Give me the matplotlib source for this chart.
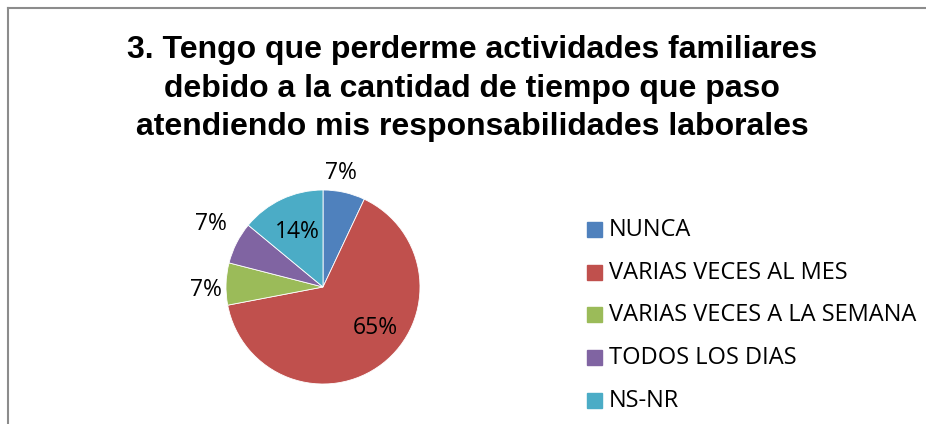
import matplotlib
matplotlib.use("Agg")
import matplotlib.pyplot as plt
from matplotlib.lines import Line2D

# chart data
categories = ["NUNCA", "VARIAS VECES AL MES", "VARIAS VECES A LA SEMANA",
              "TODOS LOS DIAS", "NS-NR"]
percentages = [7, 65, 7, 7, 14]
colors = ["#4F81BD", "#C0504D", "#9BBB59", "#8064A2", "#4BACC6"]
title = ("3. Tengo que perderme actividades familiares\n"
         "debido a la cantidad de tiempo que paso\n"
         "atendiendo mis responsabilidades laborales")

# label positions (pie data units), Excel-style placement
label_pos = [(0.19, 1.18), (0.54, -0.42), (-1.21, -0.03), (-1.16, 0.65), (-0.26, 0.57)]

W, H, DPI = 926, 424, 100
fig = plt.figure(figsize=(W / DPI, H / DPI), dpi=DPI)

# grey chart border on top / left
fig.add_artist(Line2D([8 / W, 1], [1 - 8 / H, 1 - 8 / H], color="#8c8c8c", lw=1.5))
fig.add_artist(Line2D([8 / W, 8 / W], [0, 1 - 8 / H], color="#8c8c8c", lw=1.5))

# baseline of the last title line sits around y=135
fig.text(472 / W, 1 - 135 / H, title, ha="center", va="baseline",
         fontsize=23, fontweight="bold", family="Liberation Sans",
         linespacing=1.36, multialignment="center")

cx, cy, r = 323, 287, 97
ax = fig.add_axes([(cx - r) / W, 1 - (cy + r) / H, 2 * r / W, 2 * r / H])
wedges, _ = ax.pie(percentages, colors=colors, startangle=90, counterclock=False,
                   wedgeprops=dict(edgecolor="white", linewidth=0.6))
ax.set_xlim(-1, 1)
ax.set_ylim(-1, 1)
ax.set_aspect("equal")
ax.axis("off")

for (lx, ly), p in zip(label_pos, percentages):
    ax.text(lx, ly, f"{p}%", ha="center", va="center", fontsize=16.5,
            family="Open Sans", color="#000000", clip_on=False)

# legend
leg_y = [230, 273, 315, 358, 401]
for y, c, name in zip(leg_y, colors, categories):
    fig.patches.append(plt.Rectangle((587 / W, 1 - (y + 7) / H), 15 / W, 15 / H,
                                     transform=fig.transFigure, color=c))
    fig.text(609 / W, 1 - y / H, name, ha="left", va="center",
             fontsize=17, family="Open Sans")

fig.savefig("out.png", dpi=DPI, facecolor="white")
